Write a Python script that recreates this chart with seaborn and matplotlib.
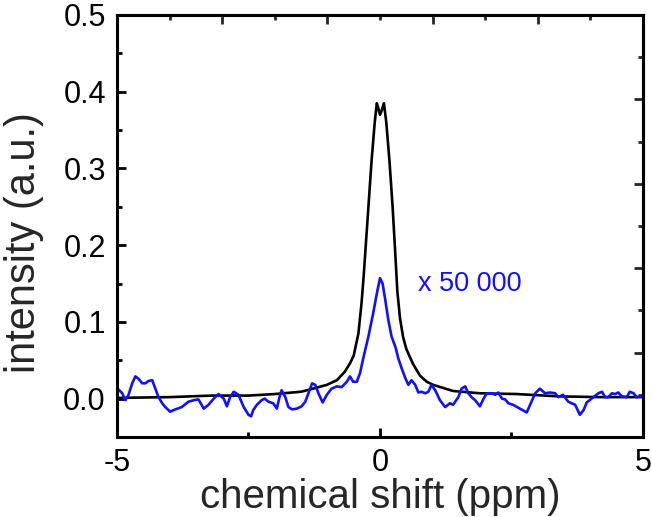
import matplotlib
matplotlib.use("Agg")
import matplotlib.pyplot as plt
import seaborn as sns
import pandas as pd
from matplotlib.ticker import MultipleLocator, FixedLocator

sns.set_theme(style="ticks")
plt.rcParams['font.family'] = ['Liberation Sans', 'DejaVu Sans']

# ---- data ----
# black trace (full spectrum)
black_x = [-5.0, -4.0, -3.2, -2.5, -2.0, -1.84, -1.5, -1.33, -1.01, -0.82, -0.67, -0.57,
           -0.5, -0.41, -0.35, -0.31, -0.27, -0.22, -0.16, -0.1, -0.06, -0.03, 0.0,
           0.03, 0.075, 0.12, 0.18, 0.24, 0.29, 0.33, 0.38, 0.44, 0.5, 0.57, 0.63,
           0.76, 0.89, 1.01, 1.39, 1.9, 2.6, 3.4, 4.2, 5.0]
black_y = [0.001, 0.002, 0.004, 0.004, 0.006, 0.007, 0.009, 0.012, 0.018, 0.024, 0.035, 0.046,
           0.056, 0.085, 0.125, 0.16, 0.20, 0.25, 0.31, 0.36, 0.385, 0.378, 0.370,
           0.375, 0.385, 0.36, 0.31, 0.25, 0.19, 0.14, 0.105, 0.08, 0.065, 0.054, 0.045,
           0.030, 0.022, 0.018, 0.010, 0.007, 0.006, 0.003, 0.002, 0.002]

# blue trace (x 50 000)
blue_x = [-4.97, -4.90, -4.84, -4.78, -4.71, -4.65, -4.59, -4.52, -4.46, -4.40, -4.33, -4.27,
          -4.21, -4.14, -4.08, -3.99, -3.89, -3.77, -3.64, -3.54, -3.45, -3.35, -3.26, -3.16,
          -3.07, -2.97, -2.91, -2.85, -2.78, -2.69, -2.59, -2.50, -2.45, -2.41, -2.34, -2.25,
          -2.19, -2.12, -2.03, -1.96, -1.91, -1.87, -1.80, -1.74, -1.67, -1.58, -1.49, -1.42,
          -1.36, -1.29, -1.23, -1.17, -1.09, -1.01, -0.92, -0.82, -0.73, -0.63, -0.57, -0.51,
          -0.44, -0.38, -0.32, -0.22, -0.13, -0.06, 0.0, 0.05, 0.10, 0.16, 0.22, 0.30,
          0.35, 0.41, 0.48, 0.54, 0.60, 0.67, 0.73, 0.79, 0.86, 0.92, 0.98, 1.05,
          1.14, 1.24, 1.33, 1.39, 1.49, 1.55, 1.62, 1.68, 1.74, 1.81, 1.90, 1.97,
          2.03, 2.13, 2.19, 2.25, 2.32, 2.38, 2.44, 2.53, 2.66, 2.79, 2.88, 2.95,
          3.04, 3.14, 3.23, 3.33, 3.39, 3.48, 3.58, 3.71, 3.80, 3.87, 3.93, 4.06,
          4.15, 4.22, 4.28, 4.34, 4.41, 4.47, 4.53, 4.60, 4.69, 4.75, 4.82, 4.88, 4.96]
blue_y = [0.012, 0.007, -0.002, 0.005, 0.020, 0.029, 0.026, 0.020, 0.020, 0.023, 0.024, 0.013,
          0.002, -0.006, -0.011, -0.017, -0.014, -0.011, -0.004, -0.002, -0.001, -0.013, -0.008, 0.000,
          0.006, 0.000, -0.010, 0.002, 0.009, 0.005, -0.011, -0.021, -0.023, -0.015, -0.008, -0.002,
          0.000, -0.004, -0.006, -0.013, 0.002, 0.011, 0.002, -0.011, -0.014, -0.013, -0.010, -0.004,
          0.007, 0.020, 0.018, 0.007, -0.005, 0.005, 0.013, 0.016, 0.015, 0.022, 0.029, 0.022,
          0.022, 0.033, 0.052, 0.081, 0.111, 0.137, 0.157, 0.150, 0.129, 0.102, 0.081, 0.066,
          0.052, 0.040, 0.027, 0.018, 0.024, 0.018, 0.008, 0.009, 0.007, 0.009, 0.018, 0.011,
          -0.002, -0.011, -0.006, -0.008, 0.002, 0.013, 0.016, 0.007, 0.002, -0.002, -0.010, 0.000,
          0.007, 0.007, 0.005, 0.008, 0.000, -0.001, -0.006, -0.008, -0.013, -0.018, -0.004, 0.007,
          0.013, 0.007, 0.008, 0.007, 0.002, 0.005, -0.004, -0.008, -0.021, -0.015, -0.005, 0.002,
          0.007, 0.009, 0.002, 0.002, 0.007, 0.006, 0.008, 0.003, 0.002, 0.009, 0.007, 0.002, 0.003]

df_black = pd.DataFrame({'shift': black_x, 'intensity': black_y})
df_blue = pd.DataFrame({'shift': blue_x, 'intensity': blue_y})

fig = plt.figure(figsize=(6.52, 5.17), dpi=100)
ax = fig.add_axes([0.1794, 0.1547, 0.8068, 0.8163])

sns.lineplot(data=df_black, x='shift', y='intensity', color='black', linewidth=1.9,
             estimator=None, sort=False, ax=ax)
sns.lineplot(data=df_blue, x='shift', y='intensity', color='#1010ff', linewidth=1.9,
             estimator=None, sort=False, ax=ax)

ax.text(0.72, 0.149, 'x 50 000', color='#1010ff', fontsize=19.5, ha='left', va='center')

ax.set_xlim(-5, 5)
ax.set_ylim(-0.05, 0.5)
ax.xaxis.set_major_locator(FixedLocator([-5, 0, 5]))
ax.xaxis.set_minor_locator(FixedLocator([-2.5, 2.5]))
ax.set_xticklabels(['-5', '0', '5'])
ax.yaxis.set_minor_locator(MultipleLocator(0.05))
ax.set_yticks([0.0, 0.1, 0.2, 0.3, 0.4, 0.5])
ax.set_yticklabels(['0.0', '0.1', '0.2', '0.3', '0.4', '0.5'])

ax.set_xlabel('chemical shift (ppm)', fontsize=29, labelpad=0)
ax.set_ylabel('intensity (a.u.)', fontsize=30)
ax.yaxis.set_label_coords(-0.138, 0.46)

for sp in ax.spines.values():
    sp.set_linewidth(2.2)
    sp.set_color('black')

ax.tick_params(which='major', direction='in', length=6.5, width=2, labelsize=22, pad=8,
               colors='black')
ax.tick_params(which='minor', direction='in', length=3.5, width=2, colors='black')

# top and right frames carry their own 0..10 tick scale, no labels
top = ax.secondary_xaxis('top', functions=(lambda x: x + 5, lambda x: x - 5))
top.set_xticks([2, 4, 6, 8])
top.xaxis.set_minor_locator(FixedLocator([1, 3, 5, 7, 9]))
top.tick_params(which='major', direction='in', length=6.5, width=2, labeltop=False)
top.tick_params(which='minor', direction='in', length=3.5, width=2)
top.spines['top'].set_linewidth(2.2)

right = ax.secondary_yaxis('right', functions=(lambda y: (y + 0.05) / 0.055,
                                               lambda v: v * 0.055 - 0.05))
right.set_yticks([2, 4, 6, 8])
right.yaxis.set_minor_locator(FixedLocator([1, 3, 5, 7, 9]))
right.tick_params(which='major', direction='in', length=6.5, width=2, labelright=False)
right.tick_params(which='minor', direction='in', length=3.5, width=2)
right.spines['right'].set_linewidth(2.2)

plt.savefig('out.png', dpi=100)
